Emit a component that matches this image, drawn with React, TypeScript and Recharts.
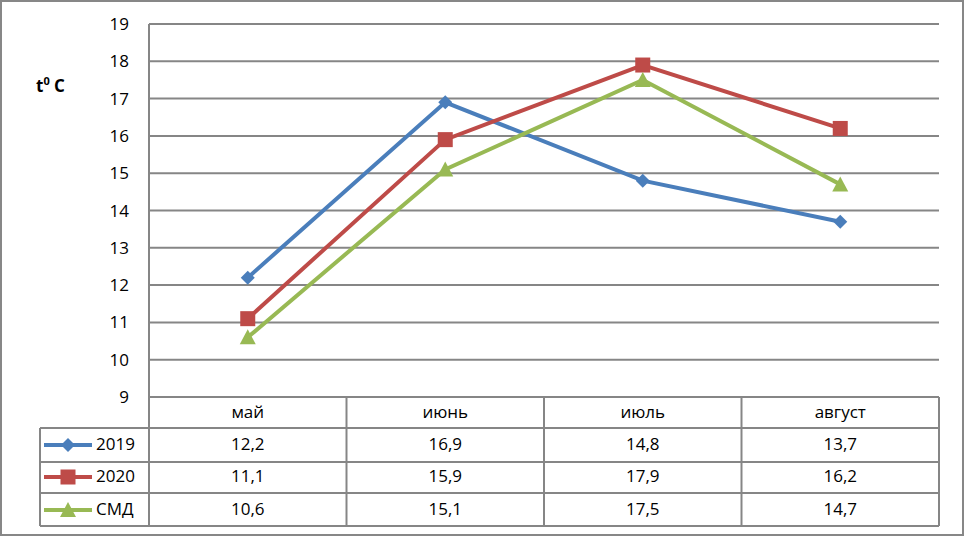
import React from "react";
import { LineChart, Line, XAxis, YAxis, CartesianGrid, Customized } from "recharts";

const months = ["май", "июнь", "июль", "август"];
const temp2019 = [12.2, 16.9, 14.8, 13.7];
const temp2020 = [11.1, 15.9, 17.9, 16.2];
const tempSmd = [10.6, 15.1, 17.5, 14.7];
const yTicks = [9, 10, 11, 12, 13, 14, 15, 16, 17, 18, 19];

const series = [
  { key: "y2019", name: "2019", color: "#4a7ebb", shape: "diamond", values: temp2019 },
  { key: "y2020", name: "2020", color: "#be4b48", shape: "square", values: temp2020 },
  { key: "smd", name: "СМД", color: "#98b954", shape: "triangle", values: tempSmd },
];

const data = months.map((m, i) => {
  const row: any = { month: m };
  series.forEach((s) => (row[s.key] = s.values[i]));
  return row;
});

const FONT = "'Open Sans', 'DejaVu Sans', sans-serif";
const GRID = "#868686";
const HALF_BAND = 98.75;
const TABLE_TOP = 397;
const HEADER_Y = 413;
const ROW_Y = [445, 477, 510];
const ROW_LINES = [428, 462, 493, 526];
const TABLE_LEFT = 40;
const TABLE_RIGHT = 939;

const fmt = (v: number) => v.toFixed(1).replace(".", ",");

function Marker({ shape, cx, cy, color }: any) {
  if (shape === "diamond") {
    const r = 7;
    return <polygon points={`${cx},${cy - r} ${cx + r},${cy} ${cx},${cy + r} ${cx - r},${cy}`} fill={color} />;
  }
  if (shape === "square") {
    const r = 7.5;
    return <rect x={cx - r} y={cy - r} width={r * 2} height={r * 2} fill={color} />;
  }
  const r = 8;
  return <polygon points={`${cx},${cy - r} ${cx + r},${cy + r - 1} ${cx - r},${cy + r - 1}`} fill={color} />;
}

function TableTick(props: any) {
  const { x, payload } = props;
  const i = months.indexOf(payload.value);
  return (
    <g>
      <line x1={x - HALF_BAND} x2={x - HALF_BAND} y1={TABLE_TOP} y2={526} stroke={GRID} strokeWidth={2} />
      {i === months.length - 1 && (
        <line x1={x + HALF_BAND} x2={x + HALF_BAND} y1={TABLE_TOP} y2={526} stroke={GRID} strokeWidth={2} />
      )}
      <text x={x} y={HEADER_Y} textAnchor="middle" dominantBaseline="middle" fontSize={17} fontFamily={FONT} fill="#000">
        {payload.value}
      </text>
      {series.map((s, r) => (
        <text key={s.key} x={x} y={ROW_Y[r]} textAnchor="middle" dominantBaseline="middle" fontSize={17} fontFamily={FONT} fill="#000">
          {fmt(s.values[i])}
        </text>
      ))}
    </g>
  );
}

function TableFrame() {
  return (
    <g>
      {ROW_LINES.map((y) => (
        <line key={y} x1={TABLE_LEFT} x2={TABLE_RIGHT} y1={y} y2={y} stroke={GRID} strokeWidth={2} />
      ))}
      <line x1={TABLE_LEFT} x2={TABLE_LEFT} y1={428} y2={526} stroke={GRID} strokeWidth={2} />
      {series.map((s, r) => (
        <g key={s.key}>
          <line x1={44} x2={92} y1={ROW_Y[r]} y2={ROW_Y[r]} stroke={s.color} strokeWidth={4} />
          <Marker shape={s.shape} cx={68} cy={ROW_Y[r]} color={s.color} />
          <text x={96} y={ROW_Y[r]} dominantBaseline="middle" fontSize={17} fontFamily={FONT} fill="#000">
            {s.name}
          </text>
        </g>
      ))}
      <text x={36} y={92} fontSize={17} fontWeight="bold" fontFamily={FONT} fill="#000">
        t<tspan fontSize={11} dy={-7}>0</tspan>
        <tspan dy={7}> C</tspan>
      </text>
    </g>
  );
}

export default function App() {
  return (
    <div style={{ position: "absolute", left: 0, top: 0, width: 966, height: 538, background: "#fff" }}>
      <div
        style={{
          position: "absolute",
          left: 0,
          top: 0,
          width: 960,
          height: 532,
          border: "2px solid #878787",
        }}
      />
      <div style={{ position: "absolute", left: 0, top: 0 }}>
        <LineChart width={966} height={538} data={data} margin={{ top: 24, right: 27, bottom: 111, left: 0 }}>
          <CartesianGrid vertical={false} stroke={GRID} strokeWidth={2} />
          <XAxis
            dataKey="month"
            padding={{ left: HALF_BAND, right: HALF_BAND }}
            axisLine={{ stroke: GRID, strokeWidth: 2 }}
            tickLine={false}
            tick={<TableTick />}
            interval={0}
            height={30}
          />
          <YAxis
            width={149}
            domain={[9, 19]}
            ticks={yTicks}
            allowDataOverflow
            axisLine={{ stroke: GRID, strokeWidth: 2 }}
            tickLine={false}
            tickSize={0}
            tickMargin={20}
            tick={{ fontSize: 17, fontFamily: FONT, fill: "#000" }}
          />
          {series.map((s) => (
            <Line
              key={s.key}
              dataKey={s.key}
              name={s.name}
              stroke={s.color}
              strokeWidth={4}
              isAnimationActive={false}
              dot={(p: any) => <Marker key={p.index} shape={s.shape} cx={p.cx} cy={p.cy} color={s.color} />}
              activeDot={false}
            />
          ))}
          <Customized component={<TableFrame />} />
        </LineChart>
      </div>
    </div>
  );
}
